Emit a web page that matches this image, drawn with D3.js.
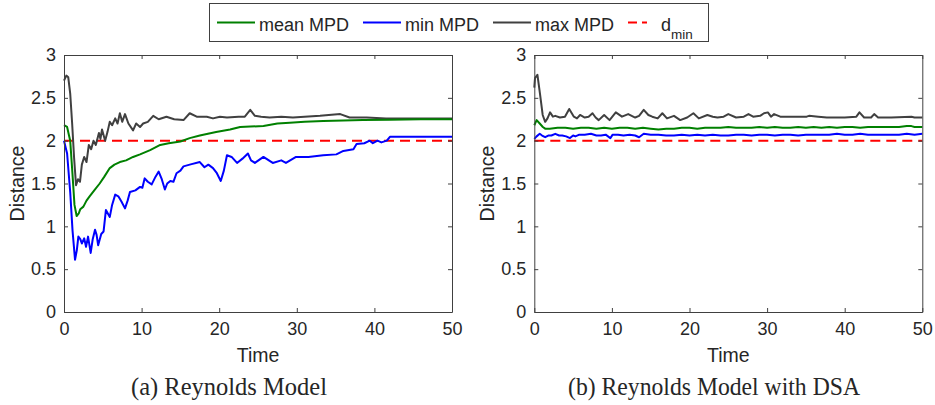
<!DOCTYPE html>
<html>
<head>
<meta charset="utf-8">
<script src="https://cdn.jsdelivr.net/npm/d3@7"></script>
<style>
  body { margin: 0; background: #fff; }
  text { font-family: "Liberation Sans", Arial, sans-serif; fill: #262626; }
</style>
</head>
<body>
<svg id="chart" width="935" height="405"></svg>
<script>
// values, [time, distance]
const reynoldsMax = [[0,2.70],[0.3,2.76],[0.55,2.74],[0.8,2.55],[1.05,2.2],[1.3,1.8],[1.55,1.48],[1.8,1.55],[2.06,1.52],[2.3,1.72],[2.6,1.81],[2.9,1.75],[3.2,1.95],[3.5,1.9],[3.8,2.0],[4.1,1.95],[4.5,2.09],[4.7,2.02],[4.9,2.13],[5.3,2.0],[5.6,2.1],[5.9,2.22],[6.2,2.18],[6.6,2.26],[6.9,2.2],[7.2,2.32],[7.5,2.22],[7.86,2.31],[8.3,2.2],[8.9,2.12],[9.3,2.2],[9.8,2.16],[10.2,2.2],[10.8,2.22],[11.5,2.29],[12.2,2.25],[13.2,2.28],[14.2,2.25],[15.4,2.24],[16.2,2.32],[17.1,2.28],[18.4,2.28],[19.2,2.26],[20.1,2.28],[21.0,2.27],[22.5,2.28],[23.3,2.28],[24.0,2.36],[24.6,2.29],[25.4,2.28],[26.5,2.27],[28,2.28],[29.5,2.27],[31,2.28],[33,2.29],[35.6,2.31],[36.8,2.27],[39,2.27],[41.5,2.26],[45,2.26],[50,2.26]];
const reynoldsMean = [[0,2.18],[0.4,2.16],[0.8,2.0],[1.1,1.6],[1.35,1.25],[1.63,1.12],[1.9,1.15],[2.1,1.2],[2.5,1.23],[2.9,1.3],[3.3,1.35],[3.9,1.42],[4.6,1.5],[5.2,1.58],[5.9,1.68],[6.5,1.72],[7.2,1.75],[8.0,1.77],[8.9,1.81],[9.8,1.84],[11.1,1.89],[12.4,1.95],[13.5,1.97],[15,1.99],[16.2,2.03],[17.5,2.06],[19.6,2.1],[21.4,2.13],[22.7,2.16],[24,2.165],[25.7,2.17],[27.5,2.2],[29.1,2.21],[31,2.22],[33.4,2.23],[36,2.235],[38.5,2.24],[42,2.245],[46,2.25],[50,2.25]];
const reynoldsMin = [[0,2.0],[0.4,1.85],[0.8,1.4],[1.1,0.95],[1.42,0.61],[1.65,0.72],[1.85,0.88],[2.1,0.85],[2.3,0.8],[2.6,0.86],[2.84,0.76],[3.1,0.88],[3.44,0.69],[3.7,0.85],[4.0,0.96],[4.2,0.9],[4.4,0.78],[4.8,0.91],[5.1,0.94],[5.4,1.19],[5.9,1.11],[6.2,1.25],[6.6,1.37],[7.0,1.35],[7.4,1.29],[7.86,1.21],[8.2,1.3],[8.5,1.4],[9.2,1.42],[9.8,1.46],[10.1,1.45],[10.4,1.56],[10.8,1.52],[11.3,1.49],[11.8,1.58],[12.2,1.64],[12.6,1.55],[13.0,1.43],[13.3,1.5],[13.7,1.53],[14.1,1.52],[14.5,1.62],[15.0,1.65],[15.4,1.7],[16.2,1.72],[17.5,1.75],[18.1,1.69],[18.6,1.72],[19.2,1.68],[19.7,1.62],[20.2,1.53],[20.6,1.65],[21.0,1.83],[21.6,1.81],[22.3,1.74],[23.0,1.79],[23.7,1.85],[24.1,1.77],[24.6,1.74],[25.7,1.81],[26.9,1.74],[28.0,1.77],[28.6,1.74],[29.9,1.81],[31.5,1.81],[33.4,1.83],[35.1,1.84],[36.0,1.88],[37.3,1.9],[37.7,1.96],[38.7,1.97],[39.4,2.0],[39.8,1.97],[40.4,2.0],[40.9,1.98],[41.6,2.0],[42.0,2.045],[50,2.045]];

const dsaMax = [[0,2.62],[0.09,2.73],[0.4,2.77],[0.73,2.55],[1.08,2.3],[1.4,2.22],[1.7,2.26],[2.03,2.33],[2.4,2.28],[2.7,2.29],[3.3,2.27],[3.95,2.28],[4.5,2.37],[5.1,2.28],[5.5,2.26],[5.9,2.3],[6.5,2.27],[7.0,2.28],[7.5,2.32],[7.9,2.27],[8.3,2.24],[9.0,2.3],[9.7,2.24],[10.5,2.33],[11.3,2.28],[12.1,2.31],[13.0,2.27],[13.5,2.29],[14.1,2.36],[14.7,2.3],[15.2,2.28],[15.9,2.26],[16.5,2.32],[17.1,2.26],[18.0,2.29],[18.8,2.24],[19.7,2.27],[20.5,2.32],[21.2,2.26],[22.3,2.3],[23.0,2.28],[23.6,2.27],[24.4,2.28],[25.0,2.31],[26.0,2.27],[27.0,2.28],[27.6,2.31],[28.2,2.28],[29.1,2.29],[29.6,2.32],[30.1,2.33],[30.5,2.28],[30.9,2.31],[31.7,2.28],[33,2.28],[35.1,2.28],[35.4,2.29],[36.6,2.28],[37.7,2.27],[40,2.27],[41.5,2.28],[41.9,2.33],[42.5,2.27],[43.4,2.27],[43.8,2.31],[44.3,2.27],[46,2.27],[48.6,2.28],[49,2.27],[50,2.27]];
const dsaMean = [[0,2.18],[0.3,2.24],[0.7,2.2],[1.1,2.16],[1.4,2.14],[2,2.14],[3,2.15],[4,2.15],[5,2.14],[6,2.15],[7,2.15],[8,2.14],[9,2.15],[10,2.14],[11,2.15],[12,2.15],[13,2.14],[14,2.15],[15,2.14],[16,2.13],[17,2.14],[18,2.14],[19,2.15],[20,2.15],[21,2.14],[22,2.15],[23,2.15],[24,2.15],[25,2.16],[26,2.15],[27,2.15],[28,2.15],[29,2.16],[30,2.15],[31,2.16],[32,2.15],[33,2.15],[34,2.16],[35,2.15],[36,2.16],[37,2.15],[38,2.16],[39,2.15],[40,2.16],[41,2.16],[42,2.15],[43,2.16],[44,2.16],[45,2.16],[46,2.16],[47,2.16],[48,2.17],[48.6,2.17],[49,2.16],[50,2.16]];
const dsaMin = [[0,2.02],[0.3,2.05],[0.7,2.08],[1.0,2.06],[1.4,2.04],[1.8,2.06],[2.2,2.06],[2.7,2.08],[3.2,2.06],[3.6,2.06],[4.1,2.05],[4.6,2.03],[5.0,2.06],[5.3,2.05],[5.8,2.07],[6.5,2.07],[7.3,2.08],[8.0,2.06],[8.6,2.06],[9.2,2.07],[9.8,2.03],[10.1,2.07],[10.8,2.07],[11.5,2.06],[12.3,2.07],[13.0,2.06],[13.5,2.04],[14.1,2.08],[15,2.07],[16,2.07],[17,2.06],[18,2.06],[19,2.07],[20,2.06],[21,2.07],[22,2.06],[23,2.07],[24,2.06],[25,2.06],[26,2.07],[27,2.07],[28,2.06],[29,2.07],[30,2.07],[31,2.06],[32,2.07],[33,2.07],[34,2.06],[35,2.07],[36,2.07],[37,2.07],[38,2.07],[39,2.08],[40,2.07],[41,2.07],[42,2.08],[43,2.07],[44,2.07],[45,2.07],[46,2.07],[47,2.07],[48,2.08],[49,2.07],[50,2.08]];

const dMin = 2;
const xTicks = [0, 10, 20, 30, 40, 50];
const yTicks = [0, 0.5, 1, 1.5, 2, 2.5, 3];

const colors = { mean: "#008000", min: "#0000ff", max: "#404040", dmin: "#ff0000" };

const panels = [
    { left: 64, caption: "(a) Reynolds Model", captionX: 229, captionW: 196, mean: reynoldsMean, min: reynoldsMin, max: reynoldsMax },
    { left: 534.3, caption: "(b) Reynolds Model with DSA", captionX: 714, captionW: 292, mean: dsaMean, min: dsaMin, max: dsaMax }
];

const plotTop = 55, height = 257, width = 388;
const svg = d3.select("#chart");

panels.forEach(p => {
    const g = svg.append("g").attr("transform", `translate(${p.left},${plotTop})`);
    const x = d3.scaleLinear().domain([0, 50]).range([0, width]);
    const y = d3.scaleLinear().domain([0, 3]).range([height, 0]);

    const line = d3.line().x(d => x(d[0])).y(d => y(d[1]));

    // series, drawn before the frame like matlab
    g.append("path").datum([[0, dMin], [50, dMin]])
        .attr("d", line).attr("fill", "none")
        .attr("stroke", colors.dmin).attr("stroke-width", 2)
        .attr("stroke-dasharray", "10,6");
    [["max", p.max], ["mean", p.mean], ["min", p.min]].forEach(([k, data]) => {
        g.append("path").datum(data)
            .attr("d", line).attr("fill", "none")
            .attr("stroke", colors[k]).attr("stroke-width", 2)
            .attr("stroke-linejoin", "round");
    });

    const styleAxis = sel => {
        sel.selectAll(".domain").attr("stroke", "#404040");
        sel.selectAll(".tick line").attr("stroke", "#404040");
        sel.selectAll("text").style("font-size", "18px").attr("fill", "#262626")
            .style("font-family", '"Liberation Sans", Arial, sans-serif');
    };

    g.append("g").attr("transform", `translate(0,${height})`)
        .call(d3.axisBottom(x).tickValues(xTicks).tickSizeInner(-4).tickSizeOuter(0).tickPadding(10))
        .call(styleAxis);
    g.append("g")
        .call(d3.axisTop(x).tickValues(xTicks).tickSizeInner(-4).tickSizeOuter(0).tickFormat(""))
        .call(styleAxis);
    g.append("g")
        .call(d3.axisLeft(y).tickValues(yTicks).tickFormat(d3.format("~g")).tickSizeInner(-4).tickSizeOuter(0).tickPadding(8))
        .call(styleAxis);
    g.append("g").attr("transform", `translate(${width},0)`)
        .call(d3.axisRight(y).tickValues(yTicks).tickSizeInner(-4).tickSizeOuter(0).tickFormat(""))
        .call(styleAxis);

    g.append("text")
        .attr("x", width / 2).attr("y", height + 50)
        .attr("text-anchor", "middle").style("font-size", "19.5px")
        .text("Time");

    g.append("text")
        .attr("transform", `translate(-40,${height / 2}) rotate(-90)`)
        .attr("text-anchor", "middle").style("font-size", "19.5px")
        .text("Distance");

    // captions look condensed in the original
    svg.append("text")
        .attr("x", p.captionX).attr("y", 395)
        .attr("text-anchor", "middle")
        .attr("textLength", p.captionW).attr("lengthAdjust", "spacingAndGlyphs")
        .style("font-family", '"Liberation Serif", "Times New Roman", serif')
        .style("font-size", "26px").attr("fill", "#000")
        .text(p.caption);
});

// legend
const legendItems = [
    { key: "mean", label: "mean MPD", x: 217 },
    { key: "min", label: "min MPD", x: 363 },
    { key: "max", label: "max MPD", x: 493 },
    { key: "dmin", label: "d", sub: "min", x: 628 }
];

const legend = svg.append("g");
legend.append("rect")
    .attr("x", 209.5).attr("y", 3.5).attr("width", 499).attr("height", 38)
    .attr("fill", "#fff").attr("stroke", "#404040").attr("stroke-width", 1);

legendItems.forEach(item => {
    const isDash = item.key === "dmin";
    const len = isDash ? 19 : 38;
    legend.append("line")
        .attr("x1", item.x).attr("x2", item.x + len)
        .attr("y1", 22.5).attr("y2", 22.5)
        .attr("stroke", colors[item.key]).attr("stroke-width", 2)
        .attr("stroke-dasharray", isDash ? "9,5" : null);
    const t = legend.append("text")
        .attr("x", item.x + len + (isDash ? 14 : 4)).attr("y", 31)
        .style("font-size", "18px")
        .text(item.label);
    if (item.sub) {
        t.append("tspan").attr("dy", 8).style("font-size", "13.5px").text(item.sub);
    }
});
</script>
</body>
</html>
